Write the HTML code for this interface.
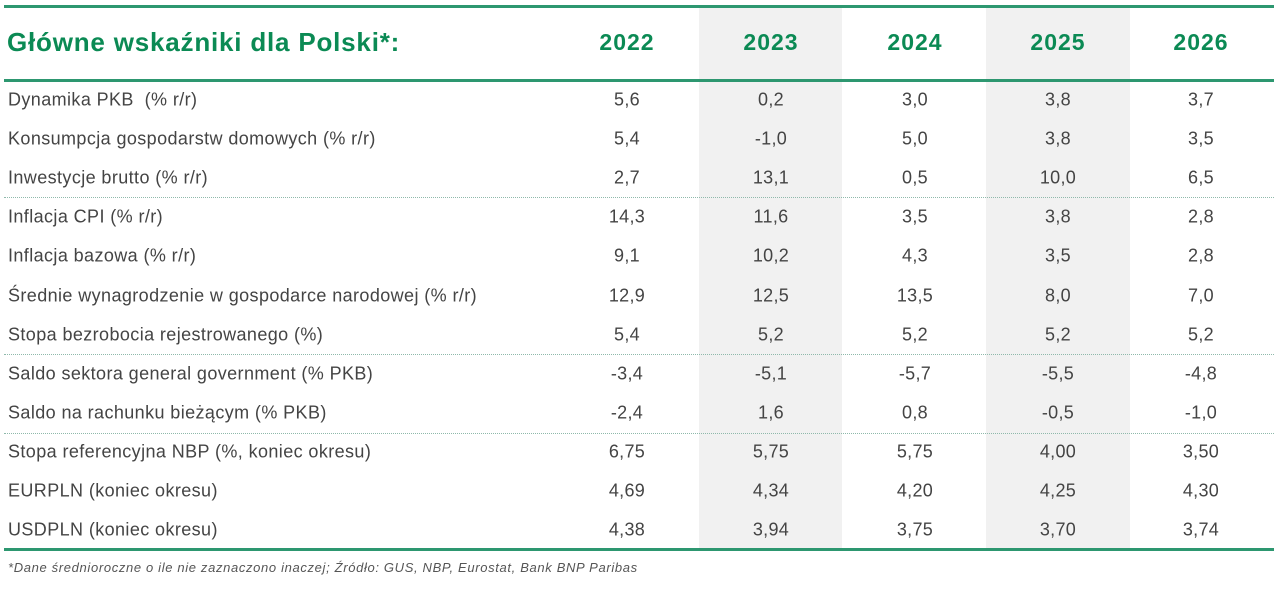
<!DOCTYPE html>
<html><head><meta charset="utf-8"><style>
body{margin:0;width:1280px;height:590px;background:#fff;position:relative;overflow:hidden;font-family:"Liberation Sans","DejaVu Sans",sans-serif;}
.a{position:absolute}
.shade{position:absolute;top:8px;height:541px;background:#f1f1f1}
.line{position:absolute;left:4px;width:1270px;height:3px;background:#2d9770}
.dot{position:absolute;left:4px;width:1270px;border-top:1.5px dotted #8fb9ab}
.lbl{position:absolute;left:8px;font-size:18px;color:#444;transform:translateY(-50%);white-space:nowrap;letter-spacing:0.4px}
.v{position:absolute;width:120px;text-align:center;font-size:18px;color:#444;transform:translateY(-50%);letter-spacing:0.3px}
.y{position:absolute;width:140px;text-align:center;font-size:23px;font-weight:bold;color:#0b8a54;top:29px;letter-spacing:1px}
</style></head><body>
<div class="shade" style="left:699px;width:143px"></div>
<div class="shade" style="left:986px;width:144px"></div>
<div class="line" style="top:5px"></div>
<div class="line" style="top:79px"></div>
<div class="line" style="top:548px"></div>
<div class="dot" style="top:197px"></div>
<div class="dot" style="top:354px"></div>
<div class="dot" style="top:433px"></div>
<div class="a" style="left:7px;top:27px;font-size:26px;font-weight:bold;color:#0b8a54;letter-spacing:0.8px">Główne wskaźniki dla Polski*:</div>
<div class="y" style="left:557px">2022</div>
<div class="y" style="left:701px">2023</div>
<div class="y" style="left:845px">2024</div>
<div class="y" style="left:988px">2025</div>
<div class="y" style="left:1131px">2026</div>
<div id="rows"></div>
<div class="a" style="left:8px;top:560px;font-size:13px;font-style:italic;color:#555;letter-spacing:0.65px">*Dane średnioroczne o ile nie zaznaczono inaczej; Źródło: GUS, NBP, Eurostat, Bank BNP Paribas</div>
<script>
var d=[["Dynamika PKB&nbsp; (% r/r)","5,6","0,2","3,0","3,8","3,7"],
["Konsumpcja gospodarstw domowych (% r/r)","5,4","-1,0","5,0","3,8","3,5"],
["Inwestycje brutto (% r/r)","2,7","13,1","0,5","10,0","6,5"],
["Inflacja CPI (% r/r)","14,3","11,6","3,5","3,8","2,8"],
["Inflacja bazowa (% r/r)","9,1","10,2","4,3","3,5","2,8"],
["Średnie wynagrodzenie w gospodarce narodowej (% r/r)","12,9","12,5","13,5","8,0","7,0"],
["Stopa bezrobocia rejestrowanego (%)","5,4","5,2","5,2","5,2","5,2"],
["Saldo sektora general government (% PKB)","-3,4","-5,1","-5,7","-5,5","-4,8"],
["Saldo na rachunku bieżącym (% PKB)","-2,4","1,6","0,8","-0,5","-1,0"],
["Stopa referencyjna NBP (%, koniec okresu)","6,75","5,75","5,75","4,00","3,50"],
["EURPLN (koniec okresu)","4,69","4,34","4,20","4,25","4,30"],
["USDPLN (koniec okresu)","4,38","3,94","3,75","3,70","3,74"]];
var c=[627,771,915,1058,1201],h="";
d.forEach(function(r,i){var y=100+i*39.1;
h+='<div class="lbl" style="top:'+y+'px">'+r[0]+'</div>';
for(var j=0;j<5;j++)h+='<div class="v" style="left:'+(c[j]-60)+'px;top:'+y+'px">'+r[j+1]+'</div>';});
document.getElementById("rows").innerHTML=h;
</script>
</body></html>
